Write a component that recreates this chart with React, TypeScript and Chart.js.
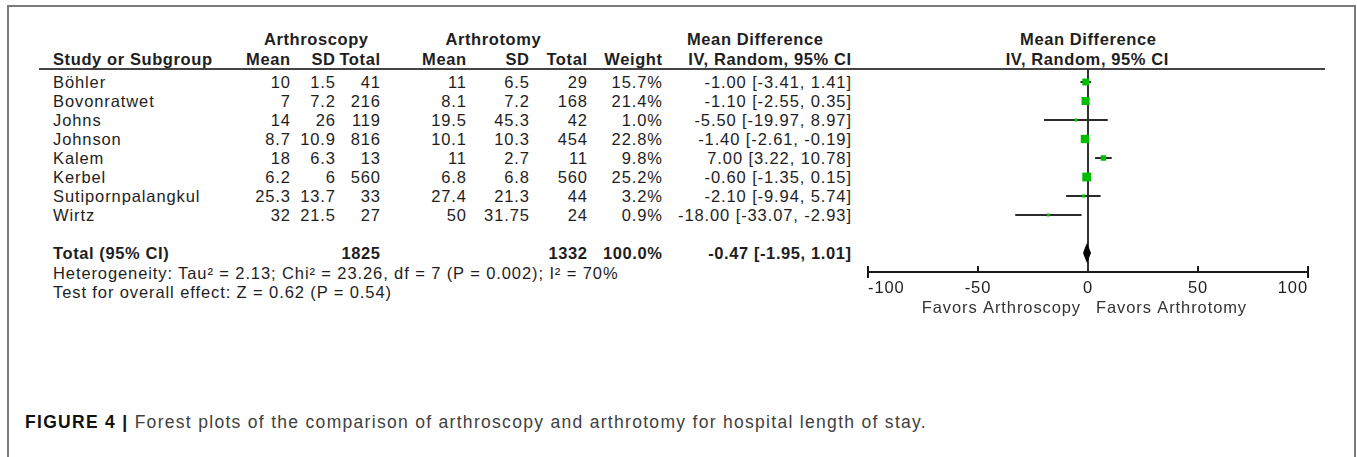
import React, { useEffect, useRef } from 'react';
import { Chart, registerables } from 'chart.js';

Chart.register(...registerables);

// ---------- data ----------
const studies = ['Böhler', 'Bovonratwet', 'Johns', 'Johnson', 'Kalem', 'Kerbel', 'Sutipornpalangkul', 'Wirtz'];
const scopyMean = ['10', '7', '14', '8.7', '18', '6.2', '25.3', '32'];
const scopySD = ['1.5', '7.2', '26', '10.9', '6.3', '6', '13.7', '21.5'];
const scopyTotal = [41, 216, 119, 816, 13, 560, 33, 27];
const tomyMean = ['11', '8.1', '19.5', '10.1', '11', '6.8', '27.4', '50'];
const tomySD = ['6.5', '7.2', '45.3', '10.3', '2.7', '6.8', '21.3', '31.75'];
const tomyTotal = [29, 168, 42, 454, 11, 560, 44, 24];
const weights = [15.7, 21.4, 1.0, 22.8, 9.8, 25.2, 3.2, 0.9];
const meanDiff = [-1.0, -1.1, -5.5, -1.4, 7.0, -0.6, -2.1, -18.0];
const ciLow = [-3.41, -2.55, -19.97, -2.61, 3.22, -1.35, -9.94, -33.07];
const ciHigh = [1.41, 0.35, 8.97, -0.19, 10.78, 0.15, 5.74, -2.93];

const totalScopy = 1825;
const totalTomy = 1332;
const totalWeight = 100.0;
const pooled = [-0.47, -1.95, 1.01]; // estimate, low, high

const xTicks = [-100, -50, 0, 50, 100];
const heterogeneityText = 'Heterogeneity: Tau² = 2.13; Chi² = 23.26, df = 7 (P = 0.002); I² = 70%';
const overallText = 'Test for overall effect: Z = 0.62 (P = 0.54)';
const favorsLeft = 'Favors Arthroscopy';
const favorsRight = 'Favors Arthrotomy';

// ---------- layout ----------
const FONT = '"Liberation Sans", Arial, Helvetica, sans-serif';
const FS = 16.5;
const LS = 0.9;
const LSB = 0.6;
const ROW0 = 82;
const STEP = 19;
const TOTAL_ROW = 9;
const rowY = (i: number) => ROW0 + STEP * i;
const GREEN = '#00bd00';
const INK = '#1e1e1e';

const CANVAS_L = 840;
const CANVAS_T = 50;
const CANVAS_W = 500;
const CANVAS_H = 360;
const AREA_TOP = 69;
const AREA_BOTTOM = 272;
const AREA_LEFT = 868;
const AREA_RIGHT = 1308;
const yMin = -(ROW0 - AREA_TOP) / STEP;
const yMax = yMin + (AREA_BOTTOM - AREA_TOP) / STEP;

const fmt2 = (v: number) => v.toFixed(2);

type TP = { x: number; y: number; align?: 'left' | 'right' | 'center'; bold?: boolean; size?: number; ls?: number; color?: string; children: React.ReactNode };
function T({ x, y, align = 'left', bold, size = FS, ls, color = INK, children }: TP) {
  const sp = ls !== undefined ? ls : bold ? LSB : LS;
  const style: React.CSSProperties = {
    position: 'absolute',
    top: y - 10,
    height: 20,
    lineHeight: '20px',
    whiteSpace: 'nowrap',
    fontWeight: bold ? 700 : 400,
    fontSize: size,
    letterSpacing: sp,
    fontFamily: FONT,
    color,
  };
  if (align === 'right') style.right = 1357 - x - sp;
  else if (align === 'center') {
    style.left = x + sp / 2;
    style.transform = 'translateX(-50%)';
  } else style.left = x;
  return <div style={style}>{children}</div>;
}

const COL = { label: 53, sMean: 290, sSD: 335, sTot: 380, tMean: 466, tSD: 529, tTot: 587, w: 662, ci: 851 };

function Forest() {
  const ref = useRef<HTMLCanvasElement | null>(null);
  useEffect(() => {
    const canvas = ref.current;
    if (!canvas) return;
    const ciSets = studies.map((s, i) => ({
      label: s + ' CI',
      data: [{ x: ciLow[i], y: i }, { x: ciHigh[i], y: i }],
      showLine: true,
      borderColor: '#2a2a2a',
      borderWidth: 2,
      pointRadius: 0,
      order: 2,
    }));
    const spacingPlugin = {
      id: 'letterSpacing',
      beforeDraw(chart: any) {
        chart.ctx.letterSpacing = `${LS}px`;
      },
    };
    const axisPlugin = {
      id: 'forestAxis',
      afterDraw(chart: any) {
        const { ctx, chartArea, scales } = chart;
        const xs = scales.x;
        const yb = chartArea.bottom;
        ctx.save();
        ctx.strokeStyle = '#1a1a1a';
        ctx.lineWidth = 2;
        ctx.beginPath();
        ctx.moveTo(xs.getPixelForValue(xTicks[0]), yb);
        ctx.lineTo(xs.getPixelForValue(xTicks[xTicks.length - 1]), yb);
        ctx.stroke();
        xTicks.forEach((v, k) => {
          const px = Math.round(xs.getPixelForValue(v));
          const end = k === 0 || k === xTicks.length - 1;
          if (v === 0) return;
          ctx.beginPath();
          ctx.moveTo(px, yb - 6);
          ctx.lineTo(px, end ? yb + 6 : yb);
          ctx.stroke();
        });
        ctx.fillStyle = '#333';
        ctx.font = `${FS}px ${FONT}`;
        ctx.letterSpacing = `${LS}px`;
        ctx.textBaseline = 'middle';
        const x0 = xs.getPixelForValue(0);
        ctx.textAlign = 'right';
        ctx.fillText(favorsLeft, x0 - 7, yb + 36);
        ctx.textAlign = 'left';
        ctx.fillText(favorsRight, x0 + 8, yb + 36);
        ctx.restore();
      },
    };
    const chart = new Chart(canvas, {
      type: 'scatter',
      data: {
        datasets: [
          {
            label: 'studies',
            data: meanDiff.map((m, i) => ({ x: m, y: i })),
            pointStyle: 'rect',
            pointRadius: weights.map((w) => Math.max(3, 1.75 * Math.sqrt(w)) / Math.SQRT2),
            backgroundColor: GREEN,
            borderWidth: 0,
            order: 0,
          } as any,
          ...ciSets,
          {
            label: 'pooled',
            data: [
              { x: pooled[1], y: TOTAL_ROW },
              { x: pooled[0], y: TOTAL_ROW - 0.42 },
              { x: pooled[2], y: TOTAL_ROW },
              { x: pooled[0], y: TOTAL_ROW + 0.42 },
              { x: pooled[1], y: TOTAL_ROW },
            ],
            showLine: true,
            fill: 'shape',
            backgroundColor: '#000',
            borderColor: '#000',
            borderWidth: 1.5,
            pointRadius: 0,
            tension: 0,
            order: 1,
          } as any,
          {
            label: 'zero',
            data: [{ x: 0, y: yMin }, { x: 0, y: yMax }],
            showLine: true,
            borderColor: '#333',
            borderWidth: 2,
            pointRadius: 0,
            order: 3,
          },
        ],
      },
      options: {
        responsive: false,
        devicePixelRatio: 1,
        animation: false,
        events: [],
        layout: {
          autoPadding: false,
          padding: { left: AREA_LEFT - CANVAS_L, right: CANVAS_L + CANVAS_W - AREA_RIGHT, top: AREA_TOP - CANVAS_T, bottom: 0 },
        },
        plugins: { legend: { display: false }, tooltip: { enabled: false } },
        scales: {
          x: {
            type: 'linear',
            min: xTicks[0],
            max: xTicks[xTicks.length - 1],
            grid: { display: false, drawTicks: false },
            border: { display: false },
            ticks: { font: { family: FONT, size: 16.5 }, color: INK, padding: 7, maxRotation: 0, autoSkip: false, align: 'inner' },
            afterBuildTicks: (s: any) => {
              s.ticks = xTicks.map((v) => ({ value: v }));
            },
            afterFit: (s: any) => {
              s.height = CANVAS_T + CANVAS_H - AREA_BOTTOM;
            },
          },
          y: { type: 'linear', reverse: true, min: yMin, max: yMax, display: false },
        },
      } as any,
      plugins: [spacingPlugin, axisPlugin],
    });
    return () => chart.destroy();
  }, []);
  return (
    <canvas
      ref={ref}
      width={CANVAS_W}
      height={CANVAS_H}
      style={{ position: 'absolute', left: CANVAS_L, top: CANVAS_T, width: CANVAS_W, height: CANVAS_H }}
    />
  );
}

export default function App() {
  return (
    <div style={{ position: 'fixed', left: 0, top: 0, width: 1357, height: 457, overflow: 'hidden', background: '#fff' }}>
      <div style={{ position: 'absolute', left: 7, top: 5, width: 1345, height: 600, border: '2px solid #7a7a7a' }} />
      {/* group headers */}
      <T x={316} y={39} align="center" bold>Arthroscopy</T>
      <T x={493} y={39} align="center" bold>Arthrotomy</T>
      <T x={687} y={39} bold>Mean Difference</T>
      <T x={1088} y={39} align="center" bold>Mean Difference</T>
      {/* column headers */}
      <T x={COL.label} y={59} bold>Study or Subgroup</T>
      <T x={COL.sMean} y={59} align="right" bold>Mean</T>
      <T x={COL.sSD} y={59} align="right" bold>SD</T>
      <T x={COL.sTot} y={59} align="right" bold>Total</T>
      <T x={COL.tMean} y={59} align="right" bold>Mean</T>
      <T x={COL.tSD} y={59} align="right" bold>SD</T>
      <T x={COL.tTot} y={59} align="right" bold>Total</T>
      <T x={COL.w} y={59} align="right" bold>Weight</T>
      <T x={COL.ci} y={59} align="right" bold>IV, Random, 95% CI</T>
      <T x={1087} y={59} align="center" bold>IV, Random, 95% CI</T>
      <div style={{ position: 'absolute', left: 39, top: 68, width: 1286, height: 2, background: '#444' }} />
      {studies.map((s, i) => {
        const y = rowY(i);
        return (
          <React.Fragment key={s}>
            <T x={COL.label} y={y}>{s}</T>
            <T x={COL.sMean} y={y} align="right">{scopyMean[i]}</T>
            <T x={COL.sSD} y={y} align="right">{scopySD[i]}</T>
            <T x={COL.sTot} y={y} align="right">{scopyTotal[i]}</T>
            <T x={COL.tMean} y={y} align="right">{tomyMean[i]}</T>
            <T x={COL.tSD} y={y} align="right">{tomySD[i]}</T>
            <T x={COL.tTot} y={y} align="right">{tomyTotal[i]}</T>
            <T x={COL.w} y={y} align="right">{weights[i].toFixed(1)}%</T>
            <T x={COL.ci} y={y} align="right">{`${fmt2(meanDiff[i])} [${fmt2(ciLow[i])}, ${fmt2(ciHigh[i])}]`}</T>
          </React.Fragment>
        );
      })}
      <T x={COL.label} y={rowY(TOTAL_ROW)} bold>Total (95% CI)</T>
      <T x={COL.sTot} y={rowY(TOTAL_ROW)} align="right" bold>{totalScopy}</T>
      <T x={COL.tTot} y={rowY(TOTAL_ROW)} align="right" bold>{totalTomy}</T>
      <T x={COL.w} y={rowY(TOTAL_ROW)} align="right" bold>{totalWeight.toFixed(1)}%</T>
      <T x={COL.ci} y={rowY(TOTAL_ROW)} align="right" bold>{`${fmt2(pooled[0])} [${fmt2(pooled[1])}, ${fmt2(pooled[2])}]`}</T>
      <T x={COL.label} y={273}>{heterogeneityText}</T>
      <T x={COL.label} y={292}>{overallText}</T>
      <Forest />
      <T x={25} y={422} size={17.5} ls={1.3} color="#404040">
        <span style={{ fontWeight: 700, color: '#111' }}>FIGURE 4 |</span> Forest plots of the comparison of arthroscopy and arthrotomy for hospital length of stay.
      </T>
    </div>
  );
}
